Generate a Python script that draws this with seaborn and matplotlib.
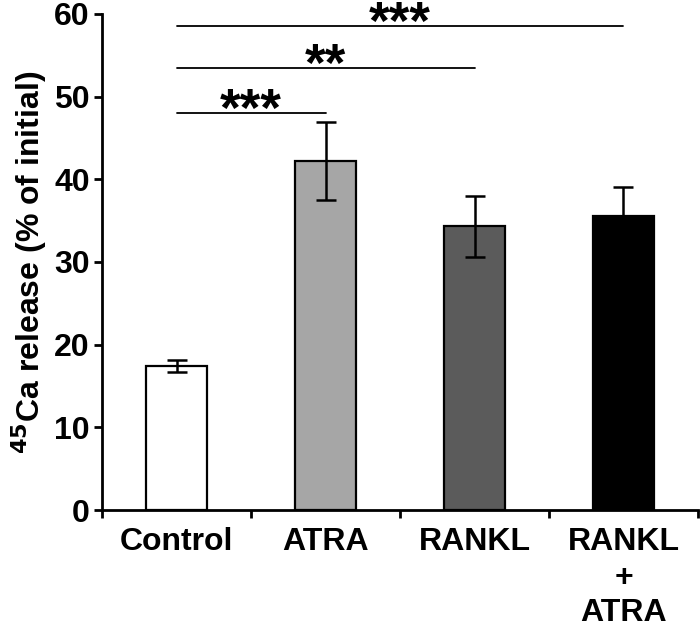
import numpy as np
import pandas as pd
import matplotlib
matplotlib.use("Agg")
import matplotlib.pyplot as plt
import seaborn as sns

# Datos
grupos = ["Control", "ATRA", "RANKL", "RANKL\n+\nATRA"]
media = [17.4, 42.2, 34.3, 35.6]
error = [0.7, 4.7, 3.7, 3.5]
colores = ["#ffffff", "#a6a6a6", "#5b5b5b", "#000000"]

# Comparaciones contra Control: (grupo destino, altura línea, etiqueta)
comp_destino = [1, 2, 3]
comp_altura = [48.0, 53.4, 58.5]
comp_texto = ["***", "**", "***"]

sns.set_style("ticks", {"axes.edgecolor": "black", "text.color": "black",
                        "axes.labelcolor": "black", "xtick.color": "black",
                        "ytick.color": "black"})
plt.rcParams["font.family"] = ["Liberation Sans", "DejaVu Sans"]
plt.rcParams["font.weight"] = "bold"

df = pd.DataFrame({"grupo": grupos, "media": media})

fig = plt.figure(figsize=(7.0, 6.29), dpi=100)
ax = fig.add_axes([0.146, 0.189, 0.851, 0.789])

sns.barplot(data=df, x="grupo", y="media", hue="grupo", palette=colores,
            legend=False, width=0.41, edgecolor="black", linewidth=1.6,
            errorbar=None, ax=ax)
ax.errorbar(np.arange(len(grupos)), media, yerr=error, fmt="none",
            ecolor="black", elinewidth=1.8, capsize=7, capthick=1.8, zorder=1)

# barras de significancia
for dest, h, txt in zip(comp_destino, comp_altura, comp_texto):
    ax.plot([0, dest], [h, h], color="black", linewidth=1.3, clip_on=False)
    ax.text(dest / 2, h - 1.5, txt, ha="center", va="baseline",
            fontsize=38, fontweight="bold", color="black")

ax.set_xlim(-0.5, 3.5)
ax.set_ylim(0, 60)
ax.set_yticks(range(0, 61, 10))
ax.set_xticks([-0.5, 0.5, 1.5, 2.5, 3.5])
ax.set_xticklabels([])
ax.set_xticks(range(len(grupos)), minor=True)
ax.set_xticklabels(grupos, minor=True, fontsize=23, fontweight="bold",
                   linespacing=1.25, color="black")
ax.tick_params(axis="x", which="minor", length=0, pad=12)
ax.tick_params(axis="x", which="major", length=6, width=2, direction="out",
               color="black")
ax.tick_params(axis="y", length=6, width=2, direction="out", labelsize=23,
               pad=3, color="black", labelcolor="black")
for lbl in ax.get_yticklabels():
    lbl.set_fontweight("bold")

ax.set_xlabel("")
ax.set_ylabel(r"$^{\mathbf{45}}$Ca release (% of initial)", fontsize=23,
              fontweight="bold", labelpad=4, color="black")

for s in ["top", "right"]:
    ax.spines[s].set_visible(False)
for s in ["left", "bottom"]:
    ax.spines[s].set_linewidth(2)
    ax.spines[s].set_color("black")

fig.savefig("out.png", dpi=100)
